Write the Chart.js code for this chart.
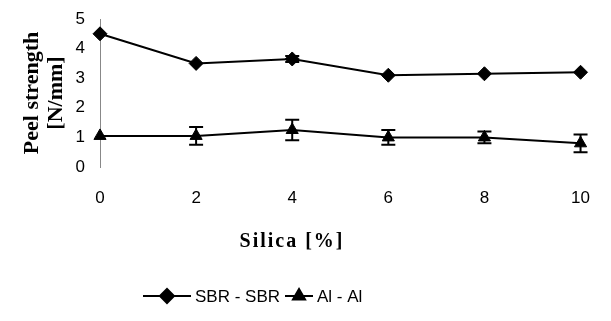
<!DOCTYPE html>
<html>
<head>
<meta charset="utf-8">
<script src="https://cdn.jsdelivr.net/npm/chart.js@4/dist/chart.umd.min.js"></script>
<style>
  html, body { margin: 0; padding: 0; background: #fff; }
</style>
</head>
<body>
<canvas id="peelChart" width="611" height="321"></canvas>
<script>
// data
const silicaLabels = ['0', '2', '4', '6', '8', '10'];
const sbrValues = [4.5, 3.5, 3.65, 3.1, 3.15, 3.2];
const sbrErrors = [0, 0, 0.1, 0, 0, 0];
const alValues = [1.05, 1.05, 1.25, 1.0, 1.0, 0.8];
const alErrors = [0, 0.3, 0.35, 0.25, 0.2, 0.3];
const seriesNames = ['SBR - SBR', 'Al - Al'];
const yTitle = ['Peel strength', '[N/mm]'];
const xTitle = 'Silica [%]';

const tickFont = { family: 'Liberation Sans', size: 17 };
const titleFont = { family: 'Liberation Serif', size: 22, weight: 'bold', lineHeight: 1.1 };

// error bars with caps
const errorBars = {
  id: 'errorBars',
  afterDatasetsDraw(chart) {
    const ctx = chart.ctx;
    const yScale = chart.scales.y;
    chart.data.datasets.forEach((ds, i) => {
      if (!ds.errors) return;
      const meta = chart.getDatasetMeta(i);
      ctx.save();
      ctx.strokeStyle = '#000';
      ctx.lineWidth = 2;
      meta.data.forEach((pt, j) => {
        const e = ds.errors[j];
        if (!e) return;
        const top = yScale.getPixelForValue(ds.data[j] + e);
        const bot = yScale.getPixelForValue(ds.data[j] - e);
        ctx.beginPath();
        ctx.moveTo(pt.x, top); ctx.lineTo(pt.x, bot);
        ctx.moveTo(pt.x - 7, top); ctx.lineTo(pt.x + 7, top);
        ctx.moveTo(pt.x - 7, bot); ctx.lineTo(pt.x + 7, bot);
        ctx.stroke();
      });
      ctx.restore();
    });
  }
};

// x title and legend (line through marker, like the original)
const bottomText = {
  id: 'bottomText',
  afterDraw(chart) {
    const ctx = chart.ctx;
    ctx.save();
    ctx.fillStyle = '#000';
    ctx.font = 'bold 20px "Liberation Serif"';
    ctx.letterSpacing = '2px';
    ctx.textAlign = 'center';
    ctx.textBaseline = 'middle';
    ctx.fillText(xTitle, 292, 242);
    ctx.letterSpacing = '0px';

    ctx.font = '17px "Liberation Sans"';
    ctx.textAlign = 'left';
    let x = 143;
    const y = 296;
    chart.data.datasets.forEach((ds, i) => {
      const len = i === 0 ? 48 : 28;
      ctx.strokeStyle = '#000';
      ctx.lineWidth = 2;
      ctx.beginPath();
      ctx.moveTo(x, y); ctx.lineTo(x + len, y);
      ctx.stroke();
      Chart.helpers.drawPoint(ctx, {
        pointStyle: ds.pointStyle, radius: ds.pointRadius, borderWidth: 1
      }, x + len / 2, y);
      ctx.fillStyle = '#000';
      ctx.fillText(ds.label, x + len + 4, y + 1);
      x += len + 4 + ctx.measureText(ds.label).width + 5;
    });
    ctx.restore();
  }
};

new Chart(document.getElementById('peelChart'), {
  type: 'line',
  data: {
    labels: silicaLabels,
    datasets: [
      {
        label: seriesNames[0],
        data: sbrValues,
        errors: sbrErrors,
        borderColor: '#000',
        backgroundColor: '#000',
        borderWidth: 2,
        pointStyle: 'rectRot',
        pointRadius: 7,
        pointBorderWidth: 1,
        tension: 0
      },
      {
        label: seriesNames[1],
        data: alValues,
        errors: alErrors,
        borderColor: '#000',
        backgroundColor: '#000',
        borderWidth: 2,
        pointStyle: 'triangle',
        pointRadius: 7,
        pointBorderWidth: 1,
        tension: 0
      }
    ]
  },
  options: {
    responsive: false,
    animation: false,
    layout: { padding: { left: 0, right: 30, top: 19, bottom: 63 } },
    plugins: {
      legend: { display: false },
      tooltip: { enabled: false }
    },
    scales: {
      x: {
        offset: false,
        grid: { display: false, drawTicks: false },
        border: { display: false },
        ticks: { color: '#000', font: tickFont, padding: 21, maxRotation: 0 },
        afterFit(scale) { scale.height = 91; }
      },
      y: {
        min: 0,
        max: 5,
        grid: { display: false, drawTicks: false },
        border: { display: true, color: '#888', width: 1, dash: [2, 12] },
        ticks: { color: '#000', font: tickFont, padding: 15, stepSize: 1 },
        title: {
          display: true,
          text: yTitle,
          color: '#000',
          font: titleFont,
          padding: { top: 20, bottom: 0 }
        },
        afterFit(scale) {
          scale.width = 100;
          // labels may overflow the plot, the page has room for them
          scale.paddingTop = 0;
          scale.paddingBottom = 0;
        }
      }
    }
  },
  plugins: [errorBars, bottomText]
});
</script>
</body>
</html>
